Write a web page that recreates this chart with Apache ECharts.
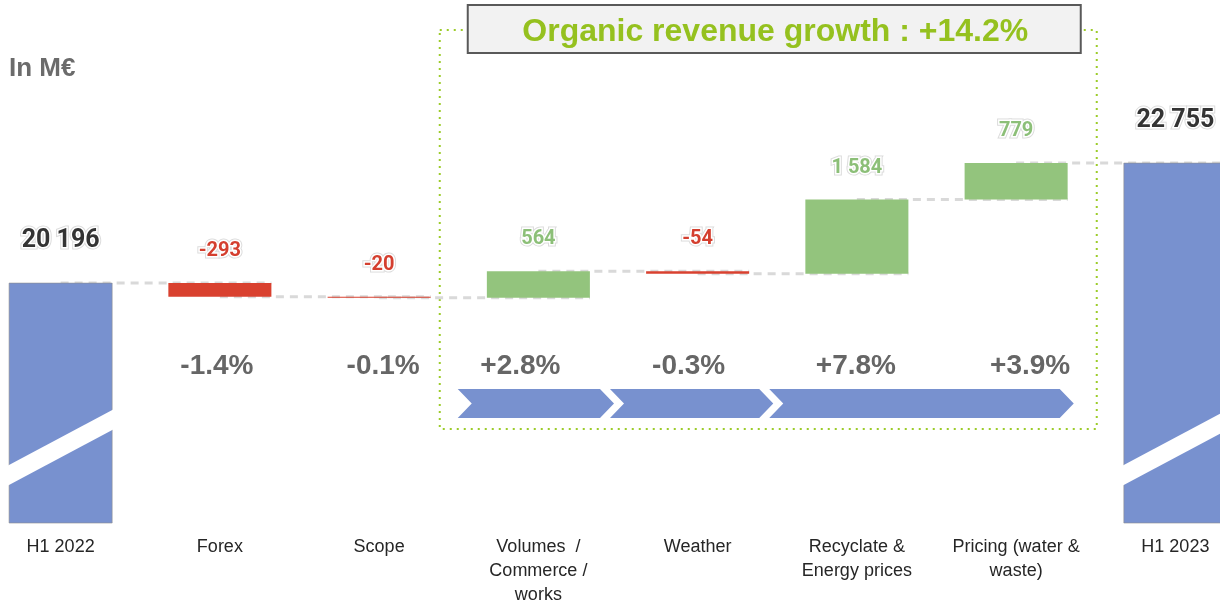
<!DOCTYPE html>
<html><head><meta charset="utf-8">
<script src="https://cdn.jsdelivr.net/npm/echarts@6/dist/echarts.min.js"></script>
<style>html,body{margin:0;padding:0;background:#fff}#c{width:1220px;height:603px}</style>
</head><body><div id="c"></div>
<script>
// ---- data ----
const categories = ['H1 2022', 'Forex', 'Scope', 'Volumes  /\nCommerce /\nworks', 'Weather', 'Recyclate &\nEnergy prices', 'Pricing (water &\nwaste)', 'H1 2023'];
const startTotal = 20196;
const deltas = [-293, -20, 564, -54, 1584, 779];
const endTotal = 22755;
const pctLabels = ['-1.4%', '-0.1%', '+2.8%', '-0.3%', '+7.8%', '+3.9%'];
const organicTitle = 'Organic revenue growth : +14.2%';
const organicRange = [3, 6];
const arrowGroups = [[3, 3], [4, 4], [5, 6]];
const unitLabel = 'In M€';

// ---- styling / layout ----
const axisMin = 15080, axisMax = 25956;
const BLUE = '#7891cf', RED = '#d9412f', GREEN = '#93c47d';
const LBL_RED = '#d43f2f', LBL_GREEN = '#8cbf78', LBL_TOTAL = '#333333';
const LIME = '#95c11f';
const pctNudge = [-3, 4, -18, -9, -1, 14]; // horizontal text offsets (px)

function fmt(v) {
  const s = Math.abs(v).toString().replace(/\B(?=(\d{3})+(?!\d))/g, ' ');
  return (v < 0 ? '-' : '') + s;
}

// build waterfall items
const bars = [];
const levels = [];
bars.push([0, axisMin, startTotal, startTotal]);
let level = startTotal;
levels.push(level);
deltas.forEach((d, i) => {
  const lo = Math.min(level, level + d), hi = Math.max(level, level + d);
  bars.push([i + 1, lo, hi, d]);
  level += d;
  levels.push(level);
});
bars.push([categories.length - 1, axisMin, endTotal, endTotal]);

const connectors = levels.map((lv, i) => [i, lv]);
const pctData = pctLabels.map((t, i) => [i + 1, axisMin]);

function haloText(x, y, text, font, fill) {
  return [
    { type: 'text', z2: 10, style: { text, x, y, align: 'center', verticalAlign: 'middle', font, fill: 'none', stroke: '#dcdcdc', lineWidth: 5 } },
    { type: 'text', z2: 11, style: { text, x, y, align: 'center', verticalAlign: 'middle', font, fill, stroke: '#ffffff', lineWidth: 3 } }
  ];
}

function renderBar(params, api) {
  const idx = api.value(0), lo = api.value(1), hi = api.value(2), amt = api.value(3);
  const isTotal = idx === 0 || idx === categories.length - 1;
  const band = api.size([1, 0])[0];
  const w = band * 0.647;
  const pLo = api.coord([idx, lo]);
  const pHi = api.coord([idx, hi]);
  const cx = pLo[0];
  const x0 = cx - w / 2;
  const h = Math.max(pLo[1] - pHi[1], 1);
  const fill = isTotal ? BLUE : (amt < 0 ? RED : GREEN);
  const children = [{
    type: 'rect', shape: { x: x0, y: pHi[1], width: w, height: h },
    style: isTotal ? { fill, stroke: 'rgba(140,140,140,0.6)', lineWidth: 1 } : { fill }
  }];
  if (isTotal) {
    const yb = pLo[1];
    children.push({
      type: 'polygon', z2: 5,
      shape: { points: [[x0 - 2, yb - 57], [x0 + w + 2, yb - 114], [x0 + w + 2, yb - 94], [x0 - 2, yb - 37]] },
      style: { fill: '#ffffff' }
    });
    children.push(...haloText(cx, pHi[1] - 42, fmt(amt), 'bold 25px Roboto', LBL_TOTAL));
  } else {
    children.push(...haloText(cx, pHi[1] - 32, fmt(amt), 'bold 20px Roboto', amt < 0 ? LBL_RED : LBL_GREEN));
  }
  return { type: 'group', children };
}

function renderConnector(params, api) {
  const idx = api.value(0), lv = api.value(1);
  const band = api.size([1, 0])[0];
  const w = band * 0.647;
  const p1 = api.coord([idx, lv]);
  const p2 = api.coord([idx + 1, lv]);
  return {
    type: 'line',
    shape: { x1: p1[0], y1: p1[1], x2: p2[0] + w / 2, y2: p2[1] },
    style: { stroke: '#d9d9d9', lineWidth: 3, lineDash: [8, 6] }
  };
}

function renderPct(params, api) {
  const idx = api.value(0);
  const p = api.coord([idx, axisMin]);
  return {
    type: 'text',
    style: { text: pctLabels[params.dataIndex], x: p[0] + pctNudge[params.dataIndex], y: p[1] - 157, align: 'center', verticalAlign: 'middle', font: 'bold 28px "Liberation Sans", Arial, sans-serif', fill: '#666666' }
  };
}

function renderArrow(params, api) {
  const s = api.value(0), e = api.value(1);
  const band = api.size([1, 0])[0];
  const ps = api.coord([s, axisMin]);
  const pe = api.coord([e, axisMin]);
  const isLast = params.dataIndex === arrowGroups.length - 1;
  const isFirst = params.dataIndex === 0;
  const L = ps[0] - band / 2 - (isFirst ? 1 : 8);
  const R = pe[0] + band / 2 - (isLast ? 22 : 4);
  const top = ps[1] - 134, bot = ps[1] - 105, mid = (top + bot) / 2, d = 14;
  return {
    type: 'polygon',
    shape: { points: [[L, top], [R - d, top], [R, mid], [R - d, bot], [L, bot], [L + d, mid]] },
    style: { fill: BLUE }
  };
}

function renderOrganic(params, api) {
  const s = api.value(0), e = api.value(1);
  const band = api.size([1, 0])[0];
  const ps = api.coord([s, axisMin]);
  const pe = api.coord([e, axisMin]);
  const pTop = api.coord([s, axisMax]);
  const left = ps[0] - band / 2 - 19;
  const right = pe[0] + band / 2 + 1;
  const top = pTop[1] + 17;
  const bot = ps[1] - 94;
  const bl = ps[0] - band / 2 + 9, br = pe[0] + band / 2 - 15;
  return {
    type: 'group',
    children: [
      { type: 'rect', shape: { x: left, y: top, width: right - left, height: bot - top },
        style: { fill: 'none', stroke: '#9ccc2a', lineWidth: 2, lineDash: [2, 5] } },
      { type: 'rect', z2: 3, shape: { x: bl, y: pTop[1] - 8, width: br - bl, height: 48 },
        style: { fill: '#f2f2f2', stroke: '#595959', lineWidth: 2 } },
      { type: 'text', z2: 4, style: { text: organicTitle, x: (bl + br) / 2 + 1, y: pTop[1] + 19, align: 'center', verticalAlign: 'middle',
        font: 'bold 32px "Liberation Sans", Arial, sans-serif', fill: LIME } }
    ]
  };
}

const chart = echarts.init(document.getElementById('c'), null, { renderer: 'canvas' });
chart.setOption({
  backgroundColor: '#ffffff',
  animation: false,
  title: {
    text: unitLabel, left: 4, top: 51,
    textStyle: { fontFamily: '"Liberation Sans", Arial, sans-serif', fontWeight: 'bold', fontSize: 26, color: '#6b6b6b' }
  },
  grid: { left: -19, right: -35, top: 13, bottom: 80, containLabel: false, outerBoundsMode: 'none' },
  xAxis: {
    type: 'category', data: categories,
    axisLine: { show: false }, axisTick: { show: false }, splitLine: { show: false },
    axisLabel: { interval: 0, margin: 12, fontSize: 18, lineHeight: 24, color: '#262626', fontFamily: '"Liberation Sans", Arial, sans-serif' }
  },
  yAxis: { type: 'value', min: axisMin, max: axisMax, show: false, splitLine: { show: false } },
  series: [
    { type: 'custom', name: 'organic', renderItem: renderOrganic, data: [organicRange], z: 1, silent: true },
    { type: 'custom', name: 'arrows', renderItem: renderArrow, data: arrowGroups, z: 2, silent: true },
    { type: 'custom', name: 'pct', renderItem: renderPct, data: pctData, z: 3, silent: true },
    { type: 'custom', name: 'connectors', renderItem: renderConnector, data: connectors.slice(0, categories.length - 1), z: 4, silent: true },
    { type: 'custom', name: 'bars', renderItem: renderBar, data: bars, z: 5, silent: true }
  ]
});
</script>
</body></html>
